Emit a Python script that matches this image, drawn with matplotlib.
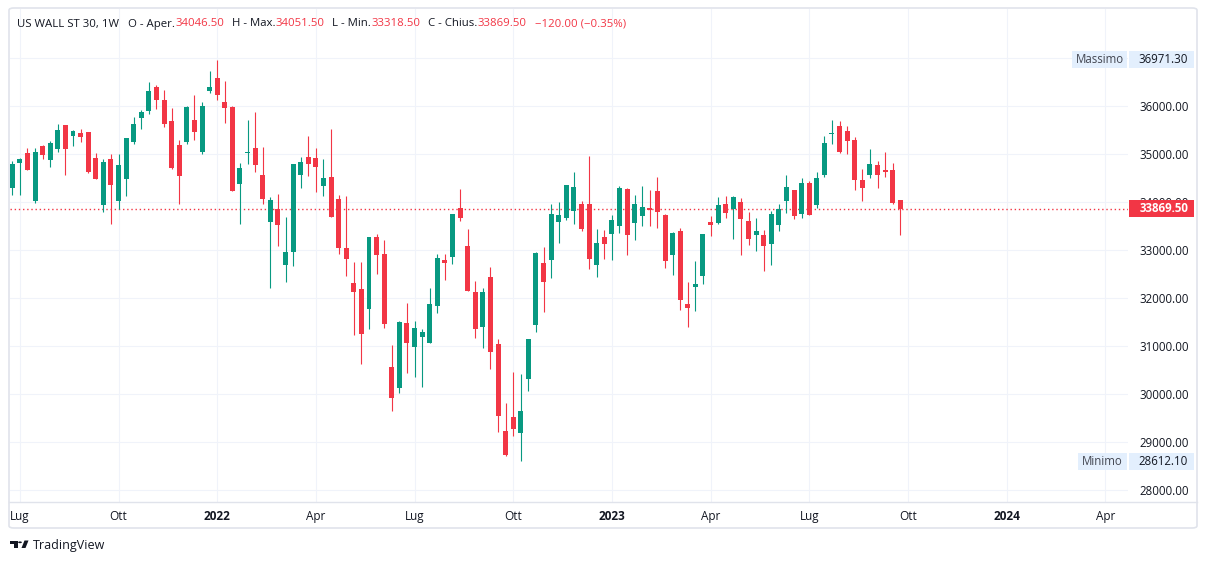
import numpy as np
import pandas as pd
import matplotlib
matplotlib.use('Agg')
import matplotlib.pyplot as plt
import matplotlib.dates as mdates
from matplotlib.patches import Rectangle, FancyBboxPatch, Polygon, Circle
from matplotlib.lines import Line2D
from matplotlib.transforms import blended_transform_factory

# weekly candles, US WALL ST 30 (1W)
opens = [34309, 34830, 35031, 34038, 35177, 34892, 35122, 35615, 35392, 35441,
         35469, 34927, 33955, 34906, 34038, 34497, 35267, 35767, 35913, 36406,
         36135, 35698, 35198, 35267, 35719, 35059, 36323, 36594, 36094, 35990,
         34392, 35031, 35135, 34573, 33601, 33865, 32705, 32976, 34580, 34948,
         34927, 34350, 34531, 34073, 33052, 32323, 32198, 31788, 33281, 32927,
         30573, 30142, 31489, 30996, 31205, 31080, 31850, 32802, 32871, 33886,
         33094, 32136, 31414, 32448, 31052, 29240, 29532, 29205, 30330, 31455,
         32740, 32809, 33601, 33684, 33830, 33969, 33969, 32705, 33282, 33351,
         33517, 34281, 33580, 33726, 33885, 34240, 33740, 32913, 33406, 31885,
         32247, 32476, 33594, 33580, 33969, 33871, 34010, 33615, 33330, 33323,
         33142, 33538, 34038, 34260, 33767, 34406, 33955, 34580, 35427, 35594,
         35490, 35302, 34469, 34580, 34781, 34677, 34677, 34046.5]
highs = [34865, 34927, 35135, 35135, 35198, 35288, 35635, 35615, 35510, 35531,
         35469, 35031, 34906, 35010, 35010, 35344, 35781, 35927, 36510, 36455,
         36344, 35962, 35302, 36010, 36240, 36094, 36740, 36971.3, 36531, 36010,
         34823, 35719, 35885, 35156, 34115, 34177, 33698, 34802, 34948, 35385,
         35135, 34906, 35531, 34156, 34128, 32760, 32760, 33281, 33344, 33219,
         31031, 31531, 31906, 31531, 31364, 32218, 32927, 32927, 33760, 34282,
         33448, 32365, 32219, 32657, 31157, 29823, 30469, 30428, 31157, 32969,
         33073, 33969, 34011, 34365, 34636, 34032, 34969, 33448, 33428, 33740,
         34344, 34302, 34156, 34344, 34260, 34531, 33760, 33385, 33469, 32344,
         32781, 33344, 33719, 34115, 34135, 34135, 34094, 33802, 33677, 33427,
         33830, 33969, 34573, 34260, 34511, 34448, 34635, 35385, 35719, 35698,
         35594, 35365, 34698, 35115, 34865, 35052, 34823, 34051.5]
lows = [34156, 34156, 34670, 33997, 34913, 34747, 35059, 34580, 35184, 35267,
        34615, 34497, 33809, 33559, 33858, 34142, 35226, 35538, 35851, 35955,
        35580, 34698, 33976, 35226, 35302, 35017, 36288, 36142, 35663, 34247,
        33559, 34809, 34642, 33976, 32226, 33101, 32351, 32684, 34309, 34559,
        34225, 34135, 33705, 32934, 32476, 31246, 30642, 31371, 32517, 31385,
        29663, 30038, 30455, 30371, 30163, 31080, 31705, 32392, 32725, 33622,
        32164, 31185, 30976, 30539, 29226, 28726, 29143, 28612.1, 30080, 31309,
        31726, 32434, 33163, 33643, 33559, 33413, 32622, 32455, 32830, 32809,
        33371, 32913, 33226, 33517, 33517, 33476, 32642, 32497, 31767, 31413,
        31747, 32309, 33309, 33559, 33684, 33247, 32913, 33121, 32997, 32580,
        32705, 33413, 33788, 33663, 33684, 33740, 33892, 34538, 35226, 35038,
        35017, 34267, 34038, 34517, 34309, 34538, 33975, 33318.5]
closes = [34802, 34906, 34684, 35052, 34997, 35240, 35510, 35122, 35490, 35372,
          34642, 34497, 34844, 34372, 34781, 35344, 35635, 35885, 36323, 36142,
          35642, 34726, 34559, 35990, 35476, 36010, 36406, 36246, 35976, 34247,
          34719, 35052, 34788, 34080, 34052, 33538, 32969, 34802, 34844, 34809,
          34746, 34510, 33705, 33059, 32830, 32142, 31267, 33281, 32913, 31476,
          29934, 31510, 31080, 31385, 31295, 31885, 32843, 32746, 33760, 33684,
          32164, 31372, 32136, 30893, 29559, 28747, 29289, 29657, 31157, 32948,
          32351, 33761, 33740, 34365, 34323, 33455, 32830, 33157, 33143, 33636,
          34302, 33330, 33969, 33906, 33851, 33809, 32788, 33365, 31976, 31809,
          32302, 33344, 33538, 33948, 33788, 34115, 33663, 33247, 33406, 33101,
          33760, 33871, 34323, 33726, 34406, 33740, 34511, 35240, 35441, 35052,
          35288, 34476, 34309, 34802, 34580, 34635, 33989.5, 33869.5]

first_week = '2021-06-28'
tick_labels = ['Lug', 'Ott', '2022', 'Apr', 'Lug', 'Ott', '2023', 'Apr',
               'Lug', 'Ott', '2024', 'Apr']
price_ticks = list(range(28000, 38000, 1000))

GREEN = '#089981'
RED = '#f23645'
TEXT = '#131722'
GRID = '#f0f3fa'
BORDER = '#e0e3eb'
LABEL_BG = '#e3effd'

plt.rcParams['font.family'] = ['Open Sans', 'DejaVu Sans']

W, H = 1209, 564
fig = plt.figure(figsize=(W / 100, H / 100), dpi=100)
fig.patch.set_facecolor('white')


def fx(px):
    return px / W


def fy(py):
    return 1 - py / H


# main price pane
ax = fig.add_axes([fx(10), fy(502), (1128 - 10) / W, (502 - 9) / H])
for s in ax.spines.values():
    s.set_visible(False)

opens = np.array(opens, dtype=float)
highs = np.array(highs, dtype=float)
lows = np.array(lows, dtype=float)
closes = np.array(closes, dtype=float)

dates = pd.date_range(first_week, periods=len(opens), freq='W-MON')
x = mdates.date2num(dates)
colors = np.where(closes >= opens, GREEN, RED)
bottoms = np.minimum(opens, closes)
heights = np.maximum(np.abs(closes - opens), 22)

ax.vlines(x, lows, highs, colors=colors, lw=0.8, zorder=3)
ax.bar(x, heights, width=4.6, bottom=bottoms, color=colors, lw=0, zorder=4)

ax.axhline(closes[-1], color=RED, lw=1.0, ls=(0, (1.0, 2.0)), zorder=2)

ax.set_xlim(x[0] - 2.1, x[0] + 1029)
ax.set_ylim(27760, 38031)

# quarter ticks sit on the first weekly bar of the month
quarters = pd.date_range('2021-07-01', '2024-04-01', freq='QS-JAN')
tick_dates = [d + pd.Timedelta(days=(7 - d.weekday()) % 7) for d in quarters]
ax.set_xticks(mdates.date2num(tick_dates))
ax.set_xticklabels(tick_labels)
ax.tick_params(axis='x', length=0, pad=6, labelsize=8.5, labelcolor=TEXT)
for lab in ax.get_xticklabels():
    if lab.get_text().isdigit():
        lab.set_fontweight('bold')

ax.yaxis.tick_right()
ax.set_yticks(price_ticks)
ax.set_yticklabels(['' if v == 37000 else f'{v:.2f}' for v in price_ticks])
ax.tick_params(axis='y', length=0, pad=8, labelsize=8.3, labelcolor=TEXT)
ax.grid(True, color=GRID, lw=0.75, zorder=0)
ax.set_axisbelow(True)

# price scale labels (max / min / last)
tr = blended_transform_factory(fig.transFigure, ax.transData)
half = 8.5 * (38031 - 27760) / 493


def scale_tag(price, name, value, bg, fg, bold=False, name_left=None):
    if name:
        fig.add_artist(Rectangle((fx(name_left), price - half), fx(1127) - fx(name_left), 2 * half,
                                 transform=tr, facecolor=bg, lw=0, zorder=5))
        fig.text(fx((name_left + 1127) / 2), price, name, transform=tr, ha='center',
                 va='center', fontsize=8.3, color='#434651', zorder=6)
    fig.add_artist(Rectangle((fx(1129), price - half), fx(1194) - fx(1129), 2 * half,
                             transform=tr, facecolor=bg, lw=0, zorder=5))
    fig.text(fx(1188), price, value, transform=tr, ha='right', va='center',
             fontsize=8.3, color=fg, fontweight='bold' if bold else 'normal', zorder=6)


scale_tag(highs.max(), 'Massimo', f'{highs.max():.2f}', LABEL_BG, TEXT, name_left=1072)
scale_tag(lows.min(), 'Minimo', f'{lows.min():.2f}', LABEL_BG, TEXT, name_left=1078)
scale_tag(closes[-1], None, f'{closes[-1]:.2f}', RED, 'white', bold=True)

# frame and time axis separator
fig.add_artist(FancyBboxPatch((fx(9), fy(528)), fx(1197) - fx(9), fy(8) - fy(528),
                              boxstyle='round,pad=0,rounding_size=0.004',
                              transform=fig.transFigure, facecolor='none',
                              edgecolor=BORDER, lw=1.2, zorder=7))
fig.add_artist(Line2D([fx(9), fx(1197)], [fy(502), fy(502)], color=BORDER, lw=1,
                      transform=fig.transFigure, zorder=7))

# header legend
change = closes[-1] - closes[-2]
pct = change / closes[-2] * 100
pieces = [
    ('US WALL ST 30, 1W', TEXT, 9),
    ('O - Aper.', TEXT, 0), (f'{opens[-1]:.2f}', RED, 8),
    ('H - Max.', TEXT, 0), (f'{highs[-1]:.2f}', RED, 8),
    ('L - Min.', TEXT, 0), (f'{lows[-1]:.2f}', RED, 8),
    ('C - Chius.', TEXT, 0), (f'{closes[-1]:.2f}', RED, 8),
    (f'{change:.2f} ({pct:.2f}%)'.replace('-', '\u2212'), RED, 0),
]
fig.canvas.draw()
renderer = fig.canvas.get_renderer()
cur = 17
for txt, col, gap in pieces:
    t = fig.text(fx(cur), fy(24), txt, color=col, fontsize=8.2, va='center', ha='left')
    bb = t.get_window_extent(renderer)
    cur += bb.width + gap

# TradingView mark
logo = '#131722'
fig.add_artist(Polygon([(fx(10), fy(540.5)), (fx(17.5), fy(540.5)), (fx(17.5), fy(548)),
                        (fx(13.8), fy(548)), (fx(13.8), fy(544)), (fx(10), fy(544))],
                       closed=True, transform=fig.transFigure, facecolor=logo, lw=0))
fig.add_artist(Circle((fx(20), fy(542.3)), fx(1.9), transform=fig.transFigure,
                      facecolor=logo, lw=0))
fig.add_artist(Polygon([(fx(21.5), fy(548)), (fx(24.5), fy(540.5)), (fx(28.5), fy(540.5)),
                        (fx(25.5), fy(548))], closed=True, transform=fig.transFigure,
                       facecolor=logo, lw=0))
fig.text(fx(33), fy(545.5), 'TradingView', fontsize=9, color=logo, va='center', ha='left')

fig.savefig('out.png', dpi=100)
